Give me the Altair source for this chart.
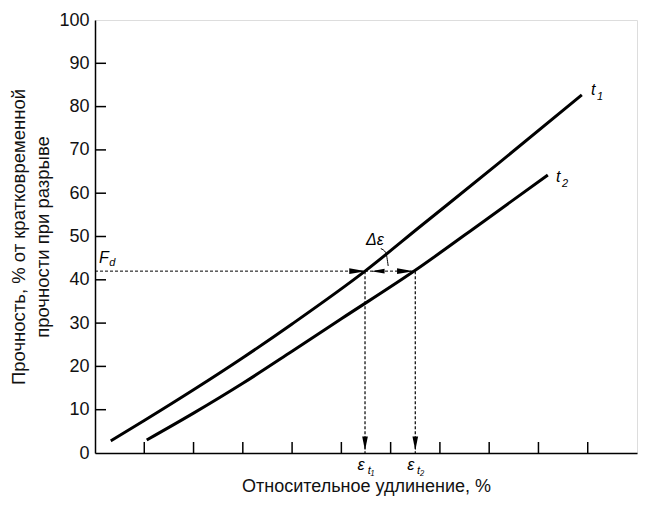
import altair as alt
import pandas as pd

# curve t1 and t2 (elongation units, strength %)
t1_x = [0.32, 1.0, 2.0, 3.0, 4.0, 5.48, 6.6, 8.2, 9.88]
t1_y = [2.8, 7.5, 14.6, 22.0, 29.8, 42.0, 52.3, 67.0, 82.7]
t2_x = [1.05, 2.0, 3.0, 4.0, 5.0, 6.5, 7.9, 9.19]
t2_y = [3.0, 9.2, 16.1, 23.5, 31.0, 42.2, 53.6, 64.2]

fd = 42.0
eps_t1 = 5.48
eps_t2 = 6.5
x_ticks = [1, 2, 3, 4, 5, 6, 7, 8, 9, 10]
y_ticks = [0, 10, 20, 30, 40, 50, 60, 70, 80, 90, 100]

W, H = 542, 433
FONT = "Liberation Sans"

xs = alt.Scale(domain=[0, 11], nice=False, zero=False)
ys = alt.Scale(domain=[0, 100], nice=False)

curves = pd.DataFrame(
    [{"x": x, "y": y, "s": "t1"} for x, y in zip(t1_x, t1_y)]
    + [{"x": x, "y": y, "s": "t2"} for x, y in zip(t2_x, t2_y)]
)

base = alt.Chart(curves).encode(
    x=alt.X("x:Q", scale=xs, axis=alt.Axis(
        values=x_ticks, labels=False, ticks=False, grid=False,
        domainColor="black", domainWidth=1.5,
        title="Относительное удлинение, %", titleFont=FONT, titleColor="#111",
        titleFontSize=18, titleFontWeight="normal", titlePadding=24)),
    y=alt.Y("y:Q", scale=ys, axis=alt.Axis(
        values=y_ticks, ticks=False, grid=False, labelFont=FONT,
        labelFontSize=18, labelColor="#111", labelPadding=6,
        domainColor="black", domainWidth=1.5,
        title=["Прочность, % от кратковременной", "прочности при разрыве"],
        titleFont=FONT, titleFontSize=18.5, titleFontWeight="normal", titleColor="#111",
        titleLineHeight=24, titlePadding=6)),
)

lines = base.mark_line(color="black", strokeWidth=3, interpolate="monotone").encode(
    detail="s:N")

# inward axis ticks
xt = alt.Chart(pd.DataFrame({"x": x_ticks})).mark_rule(color="black", strokeWidth=1.5).encode(
    x=alt.X("x:Q", scale=xs), y=alt.value(H), y2=alt.value(H - 11))
yt = alt.Chart(pd.DataFrame({"y": y_ticks[1:-1]})).mark_rule(color="black", strokeWidth=1.5).encode(
    y=alt.Y("y:Q", scale=ys), x=alt.value(0), x2=alt.value(11))

# dashed construction lines
hline = alt.Chart(pd.DataFrame({"x": [0], "x2": [eps_t2], "y": [fd]})).mark_rule(
    color="black", strokeWidth=1, strokeDash=[3, 2]).encode(
    x=alt.X("x:Q", scale=xs), x2="x2:Q", y=alt.Y("y:Q", scale=ys))
vlines = alt.Chart(pd.DataFrame({"x": [eps_t1, eps_t2], "y": [fd, fd], "y2": [0, 0]})).mark_rule(
    color="black", strokeWidth=1.2, strokeDash=[3, 2]).encode(
    x=alt.X("x:Q", scale=xs), y=alt.Y("y:Q", scale=ys), y2="y2:Q")

DOWN = "M-0.4,-1 L0.4,-1 L0,1 Z"
RIGHT = "M-1,-0.35 L1,0 L-1,0.35 Z"
LEFT = "M1,-0.35 L-1,0 L1,0.35 Z"

arrows_down = alt.Chart(pd.DataFrame({"x": [eps_t1, eps_t2], "y": [2.2, 2.2]})).mark_point(
    shape=DOWN, filled=True, color="black", size=200, opacity=1).encode(
    x=alt.X("x:Q", scale=xs), y=alt.Y("y:Q", scale=ys))
arrows_r = alt.Chart(pd.DataFrame({"x": [5.33, 6.3], "y": [fd, fd]})).mark_point(
    shape=RIGHT, filled=True, color="black", size=280, opacity=1).encode(
    x=alt.X("x:Q", scale=xs), y=alt.Y("y:Q", scale=ys))
arrows_l = alt.Chart(pd.DataFrame({"x": [5.74], "y": [fd]})).mark_point(
    shape=LEFT, filled=True, color="black", size=180, opacity=1).encode(
    x=alt.X("x:Q", scale=xs), y=alt.Y("y:Q", scale=ys))

leader = alt.Chart(pd.DataFrame({"x": [5.8, 5.9, 5.95], "y": [47.2, 46.3, 43.2]})).mark_line(
    color="black", strokeWidth=1, interpolate="monotone").encode(
    x=alt.X("x:Q", scale=xs), y=alt.Y("y:Q", scale=ys))

big_txt = pd.DataFrame({
    "x": [10.11, 9.4, 0.18, 5.40, 6.41, 5.68],
    "y": [83.8, 63.7, 45.0, -2.8, -2.8, 49.2],
    "t": ["t", "t", "F", "ε", "ε", "Δε"],
})
small_txt = pd.DataFrame({
    "x": [10.25, 9.54, 0.35, 5.60, 6.61],
    "y": [82.3, 62.2, 43.8, -4.1, -4.1],
    "t": ["1", "2", "d", "t₁", "t₂"],
})

big = alt.Chart(big_txt).mark_text(font=FONT, fontSize=16, fontStyle="italic", color="black").encode(
    x=alt.X("x:Q", scale=xs), y=alt.Y("y:Q", scale=ys), text="t:N")
small = alt.Chart(small_txt).mark_text(font=FONT, fontSize=11, fontStyle="italic", color="black").encode(
    x=alt.X("x:Q", scale=xs), y=alt.Y("y:Q", scale=ys), text="t:N")

chart = alt.layer(
    lines, xt, yt, hline, vlines, arrows_down, arrows_r, arrows_l, leader, big, small
).properties(
    width=W, height=H,
    autosize=alt.AutoSizeParams(type="none"),
    padding={"left": 87, "top": 12, "right": 7, "bottom": 46},
).configure_view(stroke="black", strokeWidth=1.5).configure(background="white")

chart.save("out.html", embed_options={"renderer": "svg", "actions": False})
